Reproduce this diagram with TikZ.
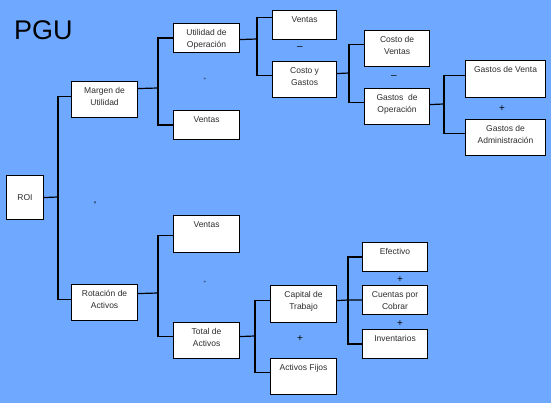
\documentclass[tikz,border=0pt]{standalone}
\usepackage{fontspec}
\setmainfont{Liberation Sans}
\definecolor{bg}{RGB}{111,169,255}
\definecolor{txt}{RGB}{45,45,45}
\newcommand{\bxt}[3]{\parbox[t][#2pt][t]{#1pt}{\centering\rule{0pt}{12pt}#3\par}}
\begin{document}
\begin{tikzpicture}[x=1pt,y=-1pt,
  box/.style={draw=black, line width=1.1pt, fill=white, inner sep=0pt, anchor=north west,
    font=\fontsize{8.5}{11.5}\selectfont, text=txt},
  conn/.style={draw=black, line width=1.2pt},
  sign/.style={inner sep=0pt, font=\fontsize{10}{10}\selectfont, text=black},
  tiny/.style={inner sep=0pt, font=\fontsize{5}{5}\selectfont, text=black}]
\useasboundingbox (0,0) rectangle (551,403);
\fill[bg] (0,0) rectangle (551,403);
\node[inner sep=0pt, anchor=base west, font=\fontsize{27}{27}\selectfont] (title) at (14,40) {PGU};

% boxes
\node[box] (roi) at (6,175) {\parbox[c][44pt][c]{37pt}{\centering ROI}};
\node[box] (mar) at (71,81) {\bxt{66}{36}{Margen de\\Utilidad}};
\node[box] (rot) at (71,284) {\bxt{66}{36}{Rotación de\\Activos}};
\node[box] (uo) at (173,23) {\bxt{66}{29}{Utilidad de\\Operación}};
\node[box] (va) at (173,110) {\bxt{66}{29}{Ventas}};
\node[box] (vb) at (272,10) {\bxt{64}{29}{Ventas}};
\node[box] (cyg) at (272,61) {\bxt{64}{36}{Costo y\\Gastos}};
\node[box] (cdv) at (364,30) {\bxt{65}{36}{Costo de\\Ventas}};
\node[box] (gdo) at (364,88) {\bxt{65}{36}{Gastos\ \ de\\Operación}};
\node[box] (gvt) at (465,60) {\bxt{80}{37}{Gastos de Venta}};
\node[box] (gad) at (465,119) {\bxt{80}{36}{Gastos de\\Administración}};
\node[box] (vc) at (173,215) {\bxt{66}{37}{Ventas}};
\node[box] (tda) at (173,322) {\bxt{66}{36}{Total de\\Activos}};
\node[box] (cdt) at (270,285) {\bxt{66}{37}{Capital de\\Trabajo}};
\node[box] (af) at (270,358) {\bxt{66}{36}{Activos Fijos}};
\node[box] (ef) at (362,242) {\bxt{65}{29}{Efectivo}};
\node[box] (cxc) at (362,285) {\bxt{65}{29}{Cuentas por\\Cobrar}};
\node[box] (inv) at (362,329) {\bxt{65}{29}{Inventarios}};

% junctions
\coordinate (j1) at (58,197);
\coordinate (j2) at (158,88);
\coordinate (j3) at (257,39);
\coordinate (j4) at (349,73);
\coordinate (j5) at (444,104);
\coordinate (j6) at (158,293);
\coordinate (j7) at (255,336);
\coordinate (j8) at (348,300);

% connectors
\draw[conn] (roi.east) -- (j1);
\draw[conn] ([yshift=3pt]mar.west) -| (j1) |- ([yshift=3pt]rot.west);
\draw[conn] ([yshift=11pt]mar.east) -- (j2);
\draw[conn] (uo.west) -| (j2) |- (va.west);
\draw[conn] ([yshift=-1.5pt]uo.east) -- (j3);
\draw[conn] ([yshift=7.5pt]vb.west) -| (j3) |- ([yshift=4pt]cyg.west);
\draw[conn] ([yshift=6pt]cyg.east) -- (j4);
\draw[conn] ([yshift=4pt]cdv.west) -| (j4) |- ([yshift=4pt]gdo.west);
\draw[conn] ([yshift=2pt]gdo.east) -- (j5);
\draw[conn] ([yshift=3.5pt]gvt.west) -| (j5) |- ([yshift=4pt]gad.west);
\draw[conn] ([yshift=9pt]rot.east) -- (j6);
\draw[conn] ([yshift=-1.5pt]vc.west) -| (j6) |- ([yshift=4pt]tda.west);
\draw[conn] ([yshift=4pt]tda.east) -- (j7);
\draw[conn] ([yshift=3.5pt]cdt.west) -| (j7) |- ([yshift=4pt]af.west);
\draw[conn] ([yshift=3.5pt]cdt.east) -- (j8) -- (cxc.west);
\draw[conn] (ef.west) -| (j8) |- (inv.west);

% operators
\node[sign] (s1) at (300,48) {–};
\node[sign] (s2) at (394,77) {–};
\node[sign] (s3) at (502,109) {+};
\node[sign] (s4) at (300,339) {+};
\node[sign] (s5) at (400,280) {+};
\node[sign] (s6) at (400,324) {+};
\node[tiny] (m1) at (95,203) {×};
\node[tiny] (m2) at (205,79) {÷};
\node[tiny] (m3) at (205,282) {÷};
\end{tikzpicture}
\end{document}
